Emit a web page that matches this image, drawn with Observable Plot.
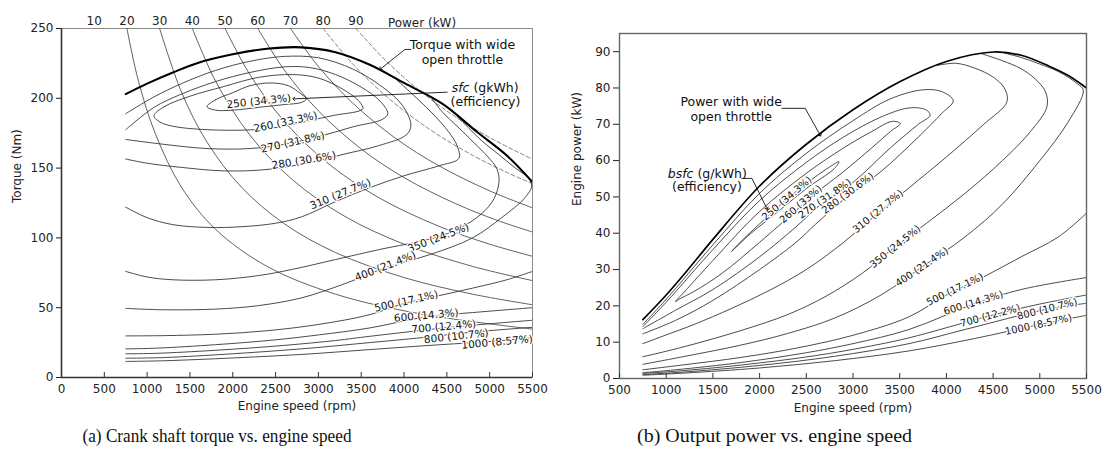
<!DOCTYPE html>
<html><head><meta charset="utf-8">
<script src="https://cdn.jsdelivr.net/npm/d3@7"></script>
<script src="https://cdn.jsdelivr.net/npm/@observablehq/plot@0.6"></script>
<style>
body{margin:0;background:#fff;}
#wrap{position:relative;width:1106px;height:462px;overflow:hidden;background:#fff;}
#pa{position:absolute;left:0;top:0;}
#pb{position:absolute;left:553px;top:0;}
#cap{position:absolute;left:0;top:420px;}
</style></head>
<body><div id="wrap"><div id="pa"></div><div id="pb"></div><svg id="cap" width="1106" height="42"></svg></div>
<script>
// ================= Panel (a): engine speed (rpm) vs crank shaft torque (Nm) =================
const speedTicksA = [0,500,1000,1500,2000,2500,3000,3500,4000,4500,5000,5500];
const torqueTicks = [0,50,100,150,200,250];
const powerLevels = [10,20,30,40,50,60,70,80,90];
const powerLabelSpeed = [382,764,1146,1528,1910,2292,2674,3056,3438];

const wotTorque = [[750,203],[1000,210.5],[1300,218.5],[1600,225.5],[2000,231.5],[2400,235.5],[2800,236.5],[3200,233],[3600,224],[4000,211],[4450,196],[4850,176],[5200,159],[5500,140]];

const power20Torque = [[764,250],[900,212],[1100,174],[1400,136.4],[1800,106.1],[2400,79.6],[3200,59.7],[4200,45.5],[5500,34.7]];
const power30Torque = [[1146,250],[1400,204.6],[1700,168.5],[2100,136.4],[2600,110.2],[3200,89.5],[4000,71.6],[4800,59.7],[5500,52.1]];
const power40Torque = [[1528,250],[1800,212.2],[2200,173.6],[2700,141.5],[3300,115.7],[4000,95.5],[4800,79.6],[5500,69.4]];
const power50Torque = [[1910,250],[2200,217],[2600,183.6],[3100,154],[3700,129],[4400,108.5],[5000,95.5],[5500,86.8]];
const power60Torque = [[2292,250],[2600,220.4],[3000,191],[3500,163.7],[4000,143.2],[4600,124.6],[5100,112.3],[5500,104.2]];
const power70Torque = [[2674,250],[3000,222.8],[3400,196.6],[3900,171.4],[4400,151.9],[5000,133.7],[5500,121.5]];
const power80Torque = [[3056,250],[3400,224.7],[3800,201],[4300,177.7],[4800,159.2],[5200,146.9],[5500,138.9]];
const power90Torque = [[3438,250],[3800,226.2],[4200,204.6],[4600,186.8],[5000,171.9],[5500,156.3]];

const bsfc250Torque = [[1700,194],[1800,199],[2000,204],[2200,209],[2450,211],[2650,209],[2800,203],[2860,199.5],[2800,197],[2600,195.5],[2300,193.5],[2000,191.5],[1800,191.5]];
const bsfc260Torque = [[1080,187.5],[1200,194],[1500,201.5],[1900,208.5],[2300,215],[2700,217],[3000,214.5],[3300,206],[3480,197.5],[3520,192.5],[3450,190.5],[3200,188],[2900,184],[2600,180],[2250,177.5],[1700,177.5],[1300,180],[1150,183]];
const bsfc270Torque = [[750,177.5],[1080,193.5],[1400,203],[1800,212],[2200,218.5],[2600,222.5],[2900,222],[3200,217],[3500,208],[3720,198],[3810,189],[3750,185],[3400,179.5],[3000,172.5],[2600,167],[2200,164],[1700,164],[1200,167],[750,170.5]];
const bsfc280Torque = [[750,189],[1080,201],[1400,210.5],[1800,220],[2200,226.5],[2600,230],[3000,229],[3400,221],[3750,208],[3980,195],[4080,181],[4030,174],[3700,166],[3300,160],[2900,154],[2400,149],[1900,148],[1400,150.5],[1000,153.5],[750,156.5]];
const bsfc310Torque = [[750,122],[1000,114.5],[1300,109.5],[1700,107.5],[2100,108],[2500,110.5],[2800,115],[3200,126],[3600,136],[4000,144.5],[4400,151.5],[4640,157],[4620,166],[4520,176],[4350,188],[4150,200],[3900,214]];
const bsfc350Torque = [[750,76],[1000,72],[1300,70],[1800,70],[2300,73],[2700,77.5],[3200,84.5],[3700,91.5],[4350,100],[4650,107],[4900,117],[5050,128],[5110,141],[5080,150],[4980,158],[4820,168],[4620,180],[4450,190],[4330,199.5]];
const bsfc400Torque = [[750,49.5],[1200,48.5],[1800,49],[2300,51.5],[2800,57],[3300,67],[3800,79],[4300,88],[4800,100],[5150,115],[5400,128],[5490,137],[5450,143],[5300,150],[5100,160],[4900,170],[4750,179],[4620,187]];
const bsfc500Torque = [[750,29.8],[1200,30],[1800,31],[2400,33.5],[3000,38],[3600,45],[4000,53],[4400,58.5],[4800,64],[5200,70],[5500,76]];
const bsfc600Torque = [[750,20.5],[1100,21],[1800,23.5],[2500,27],[3000,30.5],[3600,35.5],[4260,43.5],[4800,46.5],[5500,50]];
const bsfc700Torque = [[750,17],[1100,17.3],[1800,19.5],[2600,23],[3200,26.5],[3600,29.5],[4465,35.5],[5000,38.5],[5500,41]];
const bsfc800Torque = [[750,13.8],[1200,14.3],[2000,17],[2800,20.5],[3600,25],[4200,28.5],[4800,32.5],[5500,36]];
const bsfc1000Torque = [[750,11.5],[1200,12],[2000,14],[2800,16.5],[3600,20],[4300,23],[5050,26],[5500,28.5]];

const bsfcLevels = [250,260,270,280,310,350,400,500,600,700,800,1000];
const efficiencyA = ["34.3%","33.3%","31.8%","30.6%","27.7%","24.5%","21.4%","17.1%","14.3%","12.4%","10.7%","8.57%"];
const labelSpeedA = [2304,2616,2700,2830,3258,4400,3783,4026,4260,4464,4610,5087];
const labelTorqueA = [197.8,182.9,168.5,155.4,131.4,100,79.6,54.6,44.4,36.4,29.5,25.3];

// annotations (a), in data units
const noteWotA = {text:"Torque with wide\nopen throttle", speed:4682, torque:233.7};
const noteWotLeaderA = [[4080,235],[4010,235],[3725,221]];
const noteSfcA = {italic:"sfc", rest:" (gkWh)", sub:"(efficiency)", speed:4764, torque:207.4, subSpeed:4951, subTorque:197.7};
const noteSfcLeaderA = [[4504,204.4],[2712,199.6]];
const powerAxisTitle = {text:"Power (kW)", speed:4210};

// ================= Panel (b): engine speed (rpm) vs engine power (kW) =================
const speedTicksB = [500,1000,1500,2000,2500,3000,3500,4000,4500,5000,5500];
const powerTicks = [0,10,20,30,40,50,60,70,80,90];

const wotPower = [[750,16.2],[1000,23],[1250,30.5],[1500,38.3],[2000,53],[2500,64.5],[3000,74],[3500,81.7],[4000,87.3],[4500,89.9],[4800,89],[5100,86],[5300,83.5],[5500,80]];
const bsfc250Power = [[1700,35],[1800,37.7],[2000,42.6],[2200,47.3],[2400,51.7],[2700,57.4],[2850,59.7],[2800,57.8],[2500,52.3],[2200,46],[1900,39.8]];
const bsfc260Power = [[1100,21.2],[1200,24],[1500,32.5],[2000,46],[2500,56.5],[2900,63.5],[3200,68],[3420,70.8],[3506,70.2],[3400,68],[3200,63.5],[2900,57],[2600,51],[2400,46.5],[2000,37.5],[1600,29],[1300,24],[1150,22]];
const bsfc270Power = [[750,14.3],[1000,21],[1500,35.5],[2000,49],[2500,59.5],[2900,66.5],[3300,72],[3600,74.5],[3780,74],[3827,72.5],[3700,70],[3400,63.5],[3000,54],[2649,47.8],[2400,42],[2000,33.5],[1500,24.5],[1100,18.8],[750,13.7]];
const bsfc280Power = [[750,14.9],[1000,21.8],[1500,36.8],[2000,51],[2500,62],[3000,71],[3400,77],[3750,79.5],[3950,79],[4073,76.5],[3950,73],[3700,66.5],[3300,57],[2935,50],[2600,42.5],[2400,37.7],[2000,30],[1500,21.5],[1100,16],[750,12.3]];
const bsfc310Power = [[750,9.6],[1000,12],[1300,14.9],[1700,19.3],[2100,24.2],[2500,30],[2900,37.5],[3268,45.5],[3600,52.5],[4000,61],[4400,70],[4648,76.2],[4620,80],[4500,83],[4300,85.5],[4100,86.8],[3900,86.2]];
const bsfc350Power = [[750,6],[1000,7.5],[1300,9.5],[1800,13.2],[2300,17.6],[2700,22.5],[3100,29],[3453,36.3],[3800,43],[4200,51],[4600,60],[4900,68],[5076,74.8],[5060,79],[4950,82.5],[4800,85.3],[4600,87.5],[4380,89.4]];
const bsfc400Power = [[750,3.9],[1200,6.1],[1800,9.2],[2300,12.4],[2800,16.6],[3300,23],[3738,30.7],[4200,39],[4600,48],[5000,60],[5300,70.5],[5466,79.4],[5400,81.2],[5200,84.5],[5000,86.6],[4800,88.4],[4620,89.6]];
const bsfc500Power = [[750,2.4],[1200,3.8],[1800,5.8],[2400,8.4],[3000,11.9],[3600,17],[4000,23],[4400,28],[4800,33.5],[5200,39],[5500,45.5]];
const bsfc600Power = [[750,1.6],[1100,2.4],[1800,4.4],[2500,7.1],[3000,9.6],[3600,13.5],[4290,20.5],[4800,24.5],[5500,27.8]];
const bsfc700Power = [[750,1.4],[1100,2],[1800,3.7],[2600,6.3],[3200,9],[3600,11.2],[4470,17.3],[5000,20.5],[5500,23]];
const bsfc800Power = [[750,1.1],[1200,1.8],[2000,3.6],[2800,6.1],[3600,9.6],[4200,13.5],[5080,19.1],[5500,20.7]];
const bsfc1000Power = [[750,0.9],[1200,1.5],[2000,2.9],[2800,4.9],[3600,7.6],[4300,11],[4986,14.8],[5500,17.4]];

const efficiencyB = ["34.3%","33%","31.8%","30.6%","27.7%","24.5%","21.4%","17.1%","14.3%","12.2%","10.7%","8.57%"];
const labelSpeedB = [2292,2442,2699,2945,3268,3453,3738,4092,4290,4470,5080,4986];
const labelPowerB = [49.6,48,49.5,51,46,36.3,30.7,24.5,20.8,17.3,19.1,14.8];

const noteWotB = {text:"Power with wide\nopen throttle", speed:1696, power:74.4};
const noteWotLeaderB = [[2239,74.4],[2488,74.4],[2649,67]];
const noteSfcB = {italic:"bsfc", rest:" (g/kWh)", sub:"(efficiency)", speed:1292, power:56.4, subSpeed:1436, subPower:52.8};
const noteSfcLeaderB = [[1810,55.1],[1918,55.1],[2078,46.8]];

const captions = ["(a) Crank shaft torque vs. engine speed", "(b) Output power vs. engine speed"];

// ================= rendering =================
const FONT = "DejaVu Sans, Liberation Sans, Arial, sans-serif";
const LINE = "#2a2a2a";

function angleAt(pts, closed, lx, ly, sx, sy) {
  const px = sx(lx), py = sy(ly);
  let best = Infinity, ang = 0;
  const n = pts.length, m = closed ? n : n - 1;
  for (let i = 0; i < m; i++) {
    const a = pts[i], b = pts[(i + 1) % n];
    const x1 = sx(a[0]), y1 = sy(a[1]), x2 = sx(b[0]), y2 = sy(b[1]);
    const dx = x2 - x1, dy = y2 - y1, L = dx*dx + dy*dy || 1;
    let t = ((px - x1)*dx + (py - y1)*dy) / L; t = Math.max(0, Math.min(1, t));
    const qx = x1 + t*dx, qy = y1 + t*dy, d = (px-qx)*(px-qx) + (py-qy)*(py-qy);
    if (d < best) { best = d; ang = Math.atan2(dy, dx) * 180 / Math.PI; }
  }
  if (ang > 90) ang -= 180; if (ang < -90) ang += 180;
  return ang;
}

function contourLine(pts, closed, extra = {}) {
  return Plot.line(pts, {x: d => d[0], y: d => d[1], curve: closed ? "catmull-rom-closed" : "catmull-rom",
    stroke: LINE, strokeWidth: 0.85, clip: true, ...extra});
}

// ---------- Panel (a) ----------
const cfgA = {width: 553, height: 420, marginLeft: 61, marginRight: 21, marginTop: 28, marginBottom: 43};
const xDomA = [0, 5500], yDomA = [0, 250];
const sxA = d3.scaleLinear(xDomA, [cfgA.marginLeft, cfgA.width - cfgA.marginRight]);
const syA = d3.scaleLinear(yDomA, [cfgA.height - cfgA.marginBottom, cfgA.marginTop]);
const innerHA = cfgA.height - cfgA.marginTop - cfgA.marginBottom;

const contoursA = [bsfc250Torque, bsfc260Torque, bsfc270Torque, bsfc280Torque, bsfc310Torque, bsfc350Torque,
  bsfc400Torque, bsfc500Torque, bsfc600Torque, bsfc700Torque, bsfc800Torque, bsfc1000Torque];
const closedA = contoursA.map((c, i) => i < 2);
const powerLinesA = [power20Torque, power30Torque, power40Torque, power50Torque, power60Torque, power70Torque, power80Torque, power90Torque];
const powerLinesLevel = [20,30,40,50,60,70,80,90];
const labelsA = bsfcLevels.map((lv, i) => ({x: labelSpeedA[i], y: labelTorqueA[i], text: `${lv} (${efficiencyA[i]})`,
  angle: angleAt(contoursA[i], closedA[i], labelSpeedA[i], labelTorqueA[i], sxA, syA)}));
const powerLabelMap = new Map(powerLabelSpeed.map((s, i) => [s, powerLevels[i]]));

const plotA = Plot.plot({
  ...cfgA,
  style: {fontFamily: FONT, fontSize: "12px", color: "#222", background: "white", overflow: "visible"},
  x: {domain: xDomA}, y: {domain: yDomA},
  marks: [
    Plot.frame({stroke: "#8a8a8a", strokeWidth: 1}),
    ...powerLinesA.map((p, i) => contourLine(p, false, powerLinesLevel[i] > 70
      ? {stroke: "#666", strokeWidth: 0.8, strokeDasharray: "4,2.5"} : {stroke: "#3a3a3a", strokeWidth: 0.8})),
    ...contoursA.map((c, i) => contourLine(c, closedA[i])),
    contourLine(wotTorque, false, {stroke: "#000", strokeWidth: 2.1}),
    Plot.ruleX([0], {stroke: "#333", strokeWidth: 1.6}),
    Plot.ruleY([0], {stroke: "#333", strokeWidth: 1.6}),
    Plot.tickX(speedTicksA, {x: d => d, insetTop: innerHA - 5, stroke: "#333", strokeWidth: 1}),
    Plot.axisX({ticks: speedTicksA, tickFormat: "d", tickSize: 0, tickPadding: 7, label: null, fontSize: 12}),
    Plot.axisX({anchor: "top", ticks: powerLabelSpeed, tickFormat: d => powerLabelMap.get(d), tickSize: 0, tickPadding: 4, label: null, fontSize: 12}),
    Plot.axisY({ticks: torqueTicks, tickSize: 5, tickPadding: 3, label: null, fontSize: 12}),
    Plot.text([powerAxisTitle], {x: "speed", text: "text", frameAnchor: "top", dy: -10, fontSize: 12}),
    Plot.text(["Torque (Nm)"], {frameAnchor: "left", dx: -44, rotate: -90, fontSize: 12}),
    Plot.text(["Engine speed (rpm)"], {frameAnchor: "bottom", dy: 32, fontSize: 12}),
    Plot.text(labelsA, {x: "x", y: "y", text: "text", rotate: "angle", fontSize: 10.5, fill: "#111", stroke: "white", strokeWidth: 2.5}),
    Plot.line(noteWotLeaderA, {x: d => d[0], y: d => d[1], stroke: "#111", strokeWidth: 0.9, markerEnd: "arrow"}),
    Plot.line(noteSfcLeaderA, {x: d => d[0], y: d => d[1], stroke: "#111", strokeWidth: 0.9, markerEnd: "arrow"}),
    Plot.text([noteWotA], {x: "speed", y: "torque", text: "text", fontSize: 12.5, lineHeight: 1.2, fill: "#111", stroke: "white", strokeWidth: 3}),
    Plot.text([noteSfcA], {x: "speed", y: "torque", text: "italic", textAnchor: "end", fontStyle: "italic", fontSize: 12.5, fill: "#111"}),
    Plot.text([noteSfcA], {x: "speed", y: "torque", text: "rest", textAnchor: "start", fontSize: 12.5, fill: "#111"}),
    Plot.text([noteSfcA], {x: "subSpeed", y: "subTorque", text: "sub", fontSize: 12.5, fill: "#111"})
  ]
});
document.getElementById("pa").append(plotA);

// ---------- Panel (b) ----------
const cfgB = {width: 553, height: 420, marginLeft: 66, marginRight: 20, marginTop: 33, marginBottom: 42};
const xDomB = [500, 5500], yDomB = [0, 95];
const sxB = d3.scaleLinear(xDomB, [cfgB.marginLeft, cfgB.width - cfgB.marginRight]);
const syB = d3.scaleLinear(yDomB, [cfgB.height - cfgB.marginBottom, cfgB.marginTop]);
const innerHB = cfgB.height - cfgB.marginTop - cfgB.marginBottom;

const contoursB = [bsfc250Power, bsfc260Power, bsfc270Power, bsfc280Power, bsfc310Power, bsfc350Power,
  bsfc400Power, bsfc500Power, bsfc600Power, bsfc700Power, bsfc800Power, bsfc1000Power];
const closedB = contoursB.map((c, i) => i < 2);
const labelsB = bsfcLevels.map((lv, i) => ({x: labelSpeedB[i], y: labelPowerB[i], text: `${lv} (${efficiencyB[i]})`,
  angle: angleAt(contoursB[i], closedB[i], labelSpeedB[i], labelPowerB[i], sxB, syB)}));

const plotB = Plot.plot({
  ...cfgB,
  style: {fontFamily: FONT, fontSize: "12px", color: "#222", background: "white", overflow: "visible"},
  x: {domain: xDomB}, y: {domain: yDomB},
  marks: [
    ...contoursB.map((c, i) => contourLine(c, closedB[i])),
    contourLine(wotPower, false, {stroke: "#000", strokeWidth: 1.7}),
    Plot.frame({stroke: "#666", strokeWidth: 1.4}),
    Plot.tickX(speedTicksB, {x: d => d, insetTop: innerHB - 5, stroke: "#333", strokeWidth: 1}),
    Plot.axisX({ticks: speedTicksB, tickFormat: "d", tickSize: 0, tickPadding: 7, label: null, fontSize: 12}),
    Plot.axisY({ticks: powerTicks, tickSize: 6, tickPadding: 3, label: null, fontSize: 12}),
    Plot.text(["Engine power (kW)"], {frameAnchor: "left", dx: -42, rotate: -90, fontSize: 12}),
    Plot.text(["Engine speed (rpm)"], {frameAnchor: "bottom", dy: 33, fontSize: 12}),
    Plot.text(labelsB, {x: "x", y: "y", text: "text", rotate: "angle", fontSize: 10, fill: "#111", stroke: "white", strokeWidth: 2.5}),
    Plot.line(noteWotLeaderB, {x: d => d[0], y: d => d[1], stroke: "#111", strokeWidth: 0.9, markerEnd: "arrow"}),
    Plot.line(noteSfcLeaderB, {x: d => d[0], y: d => d[1], stroke: "#111", strokeWidth: 0.9, markerEnd: "arrow"}),
    Plot.text([noteWotB], {x: "speed", y: "power", text: "text", fontSize: 12.5, lineHeight: 1.2, fill: "#111"}),
    Plot.text([noteSfcB], {x: "speed", y: "power", text: "italic", textAnchor: "end", fontStyle: "italic", fontSize: 12.5, fill: "#111"}),
    Plot.text([noteSfcB], {x: "speed", y: "power", text: "rest", textAnchor: "start", fontSize: 12.5, fill: "#111"}),
    Plot.text([noteSfcB], {x: "subSpeed", y: "subPower", text: "sub", fontSize: 12.5, fill: "#111"})
  ]
});
document.getElementById("pb").append(plotB);

// ---------- captions ----------
const cap = d3.select("#cap");
const capLayout = [{cx: 217, w: 269}, {cx: 774.5, w: 275}];
captions.forEach((t, i) => {
  cap.append("text").attr("x", capLayout[i].cx - capLayout[i].w / 2).attr("y", 22)
    .attr("textLength", capLayout[i].w).attr("lengthAdjust", "spacingAndGlyphs")
    .attr("font-family", "Liberation Serif, DejaVu Serif, serif").attr("font-size", 19).attr("fill", "#111").text(t);
});
</script>
</body></html>
